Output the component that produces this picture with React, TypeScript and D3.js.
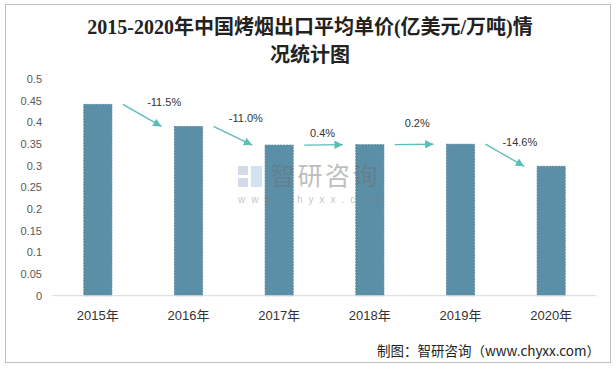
import React from "react";
import * as d3 from "d3";

// 2015-2020 烤烟出口平均单价
const years = ["2015年", "2016年", "2017年", "2018年", "2019年", "2020年"];
const prices = [0.442, 0.391, 0.348, 0.349, 0.35, 0.299];
const growthLabels = ["-11.5%", "-11.0%", "0.4%", "0.2%", "-14.6%"];
const yTicks = [0, 0.05, 0.1, 0.15, 0.2, 0.25, 0.3, 0.35, 0.4, 0.45, 0.5];

// label offsets from arrow midpoint (hand placed in original)
const labelNudge: [number, number][] = [
  [22, -13],
  [13, -18],
  [-1, -12],
  [3, -21],
  [15, -13],
];

const W = 616;
const H = 370;
const font = "'Liberation Sans', 'Noto Sans CJK SC', sans-serif";
const cjk = "'Noto Sans CJK SC', sans-serif";

export default function App() {
  const x = d3.scaleBand().domain(years).range([52.5, 596.5]).padding(0);
  const y = d3.scaleLinear().domain([0, 0.5]).range([295.7, 79.3]);
  const barW = x.bandwidth() * 0.31;
  const cx = (d: string) => (x(d) ?? 0) + x.bandwidth() / 2;

  const arrows = growthLabels.map((lab, i) => {
    const x1 = cx(years[i]) + 25;
    const y1 = y(prices[i]);
    const x2 = cx(years[i + 1]) - 27;
    const y2 = y(prices[i + 1]);
    const mx = (x1 + x2) / 2 + labelNudge[i][0];
    const my = (y1 + y2) / 2 + labelNudge[i][1];
    return { lab, x1, y1, x2, y2, mx, my };
  });

  return (
    <svg
      width={W}
      height={H}
      style={{ position: "absolute", left: 0, top: 0, background: "#fff" }}
    >
      <defs>
        <marker
          id="arr"
          viewBox="0 0 10 10"
          refX="10"
          refY="5"
          markerWidth="6"
          markerHeight="6"
          markerUnits="strokeWidth"
          orient="auto"
        >
          <path d="M0,0 L10,5 L0,10 z" fill="#5dbdb7" />
        </marker>
      </defs>
      <rect x={5.5} y={4.5} width={605} height={358} fill="#fff" stroke="#bfbfbf" />

      {/* title */}
      <text
        x={310}
        y={34}
        textAnchor="middle"
        fontSize={20}
        fontWeight="bold"
        fontFamily="'Liberation Serif', 'Noto Sans CJK SC', serif"
        fill="#222"
      >
        2015-2020年中国烤烟出口平均单价(亿美元/万吨)情
      </text>
      <text
        x={310}
        y={62}
        textAnchor="middle"
        fontSize={20}
        fontWeight="bold"
        fontFamily="'Liberation Serif', 'Noto Sans CJK SC', serif"
        fill="#222"
      >
        况统计图
      </text>

      {/* y ticks */}
      {yTicks.map((t) => (
        <text
          key={t}
          x={42}
          y={y(t)}
          dy="0.35em"
          textAnchor="end"
          fontSize={11}
          fontFamily={font}
          fill="#595959"
        >
          {t}
        </text>
      ))}

      {/* bars */}
      {years.map((d, i) => (
        <rect
          key={d}
          x={cx(d) - barW / 2}
          y={y(prices[i])}
          width={barW}
          height={y(0) - y(prices[i])}
          fill="#5b8fa7"
          stroke="#4b7b95"
          strokeWidth={0.8}
          strokeDasharray="2,1"
        />
      ))}

      {/* watermark, sits over the bars */}
      <g opacity={0.45}>
        <rect x={238} y={166} width={10} height={9} fill="#9fb0d2" />
        <rect x={238} y={178} width={10} height={9} fill="#9fb0d2" />
        <rect x={251} y={166} width={11} height={21} fill="#9fc0e4" />
        <text x={270} y={185} fontSize={25} fontFamily={cjk} fill="#707070" letterSpacing={2.5}>
          智研咨询
        </text>
        <text x={238} y={203} fontSize={10} fontFamily={font} fill="#808080" letterSpacing={6}>
          www.chyxx.com
        </text>
      </g>

      {/* x axis */}
      <line x1={x.range()[0]} x2={x.range()[1]} y1={y(0)} y2={y(0)} stroke="#d9d9d9" />
      {years.map((d) => (
        <text
          key={d}
          x={cx(d)}
          y={320}
          textAnchor="middle"
          fontSize={13}
          fontFamily={font}
          fill="#333"
        >
          {d}
        </text>
      ))}

      {/* growth arrows */}
      {arrows.map((a) => (
        <g key={a.lab}>
          <line
            x1={a.x1}
            y1={a.y1}
            x2={a.x2}
            y2={a.y2}
            stroke="#5dbdb7"
            strokeWidth={1.4}
            markerEnd="url(#arr)"
          />
          <text
            x={a.mx}
            y={a.my}
            dy="0.35em"
            textAnchor="middle"
            fontSize={11}
            fontFamily={font}
            fill="#333"
          >
            {a.lab}
          </text>
        </g>
      ))}

      {/* source */}
      <text x={600} y={356} textAnchor="end" fontSize={13.5} fontFamily={cjk} fill="#222">
        制图：智研咨询（www.chyxx.com）
      </text>
    </svg>
  );
}
